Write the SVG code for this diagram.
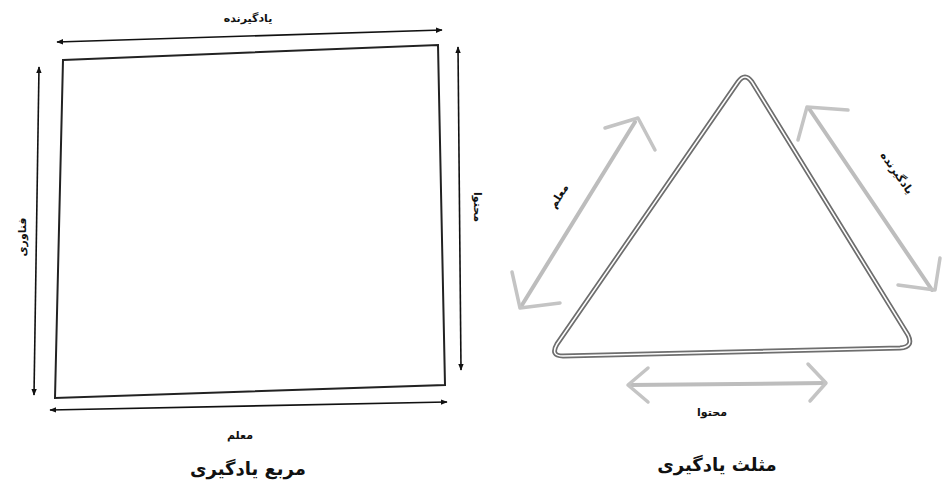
<svg xmlns="http://www.w3.org/2000/svg" width="944" height="503" viewBox="0 0 944 503">
<defs>
<style>
.lbl{font-family:"DejaVu Sans","Noto Sans",sans-serif;font-size:11px;font-weight:bold;fill:#111;text-anchor:middle}
.title{font-family:"DejaVu Sans","Noto Sans",sans-serif;font-size:18px;font-weight:bold;fill:#111;text-anchor:middle}
.sq{fill:none;stroke:#222;stroke-width:2}
.bk{fill:none;stroke:#111;stroke-width:1.6;marker-start:url(#ah);marker-end:url(#ah)}
.gr{fill:none;stroke:#bdbdbd;stroke-width:4;stroke-linecap:round}
.grh{fill:none;stroke:#c4c4c4;stroke-width:3.5;stroke-linecap:round;stroke-linejoin:round}
</style>
<marker id="ah" viewBox="0 0 10 10" refX="9" refY="5" markerWidth="7" markerHeight="7" orient="auto-start-reverse" markerUnits="userSpaceOnUse">
<path d="M0,1 L10,5 L0,9 z" fill="#111"/>
</marker>
</defs>
<rect width="944" height="503" fill="#fff"/>

<g id="square">
<path class="sq" d="M63,60 L438,45 L445,385 L55,398 Z"/>
</g>

<g id="connectors">
<line class="bk" x1="57" y1="42" x2="442" y2="30"/>
<line class="bk" x1="39" y1="67" x2="34" y2="395"/>
<line class="bk" x1="458" y1="47" x2="461" y2="370"/>
<line class="bk" x1="50" y1="410" x2="447" y2="402"/>
<g id="tri-arrows">
<line class="gr" x1="522" y1="305" x2="635" y2="122"/>
<polyline class="grh" points="605,128 638,118 655,150"/>
<polyline class="grh" points="512,272 520,308 560,303"/>
<line class="gr" x1="810" y1="110" x2="932" y2="290"/>
<polyline class="grh" points="798,140 807,107 848,110"/>
<polyline class="grh" points="898,285 935,290 940,258"/>
<line class="gr" x1="630" y1="385" x2="825" y2="383"/>
<polyline class="grh" points="648,368 628,385 648,402"/>
<polyline class="grh" points="808,364 826,383 810,401"/>
</g>
</g>

<g id="triangle">
<path d="M738,82 Q745,72 752,82 L908,335 Q914,347 900,348 L563,356 Q550,356 557,344 Z" fill="none" stroke="#6e6e6e" stroke-width="5" stroke-linejoin="round"/>
<path d="M738,82 Q745,72 752,82 L908,335 Q914,347 900,348 L563,356 Q550,356 557,344 Z" fill="none" stroke="#fff" stroke-width="1.5" stroke-linejoin="round"/>
</g>

<g id="labels">
<text class="lbl" x="248" y="22">یادگیرنده</text>
<text class="lbl" transform="translate(26,237) rotate(-90)">فناوری</text>
<text class="lbl" transform="translate(474,207) rotate(90)">محتوا</text>
<text class="lbl" x="240" y="439">معلم</text>
<text class="lbl" transform="translate(562,198) rotate(-58)">معلم</text>
<text class="lbl" transform="translate(894,175) rotate(55)">یادگیرنده</text>
<text class="lbl" x="712" y="416">محتوا</text>
</g>

<g id="titles">
<text class="title" x="248" y="475">مربع یادگیری</text>
<text class="title" x="717" y="471">مثلث یادگیری</text>
</g>
</svg>
